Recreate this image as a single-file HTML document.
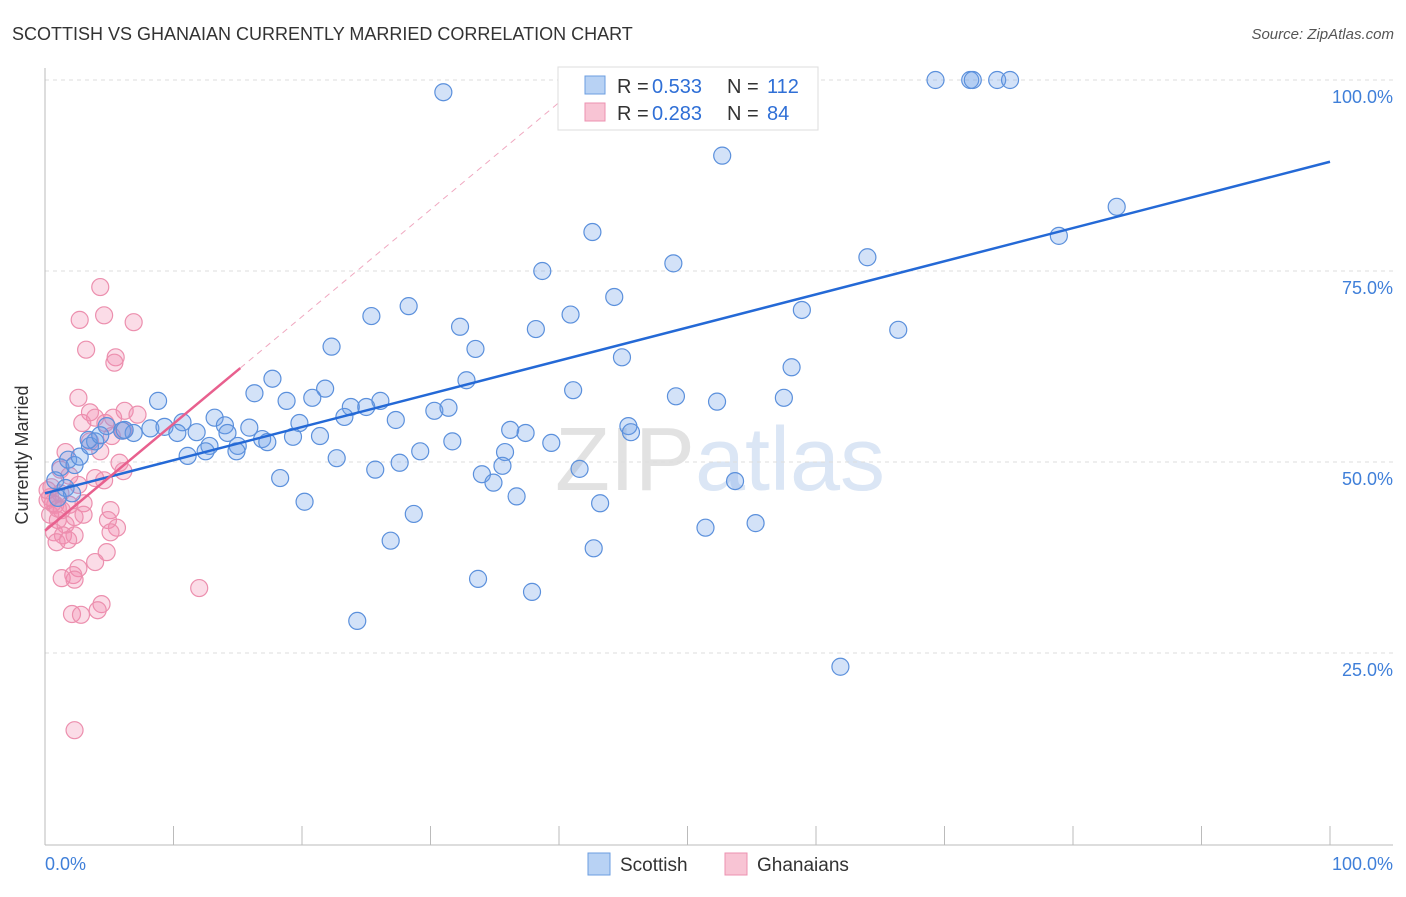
<!DOCTYPE html>
<html><head><meta charset="utf-8"><style>
body{margin:0;background:#fff;font-family:"Liberation Sans",sans-serif;}
svg text{font-family:"Liberation Sans",sans-serif;}
</style></head><body>
<svg id="chart" width="1406" height="892" xmlns="http://www.w3.org/2000/svg">
<text x="12" y="40" font-size="18" fill="#333">SCOTTISH VS GHANAIAN CURRENTLY MARRIED CORRELATION CHART</text>
<text x="1394" y="39" font-size="15" fill="#555" text-anchor="end" font-style="italic">Source: ZipAtlas.com</text>
<text x="720" y="490" font-size="90" fill="#e8e8e8" text-anchor="middle" font-family="Liberation Serif"><tspan fill="#e2e2e2">ZIP</tspan><tspan fill="#dbe6f5" font-family="Liberation Sans">atlas</tspan></text>
<g id="grid"></g>
<g id="axes"></g>
<g id="pts"></g>
<g id="lines"></g>
<text x="28" y="455" font-size="18" fill="#333" text-anchor="middle" transform="rotate(-90 28 455)">Currently Married</text>
<g>
<rect x="558" y="67" width="260" height="63" fill="#fff" stroke="#ddd"/>
<rect x="585" y="76" width="20" height="18" fill="#b8d2f4" stroke="#6b9ee0"/>
<rect x="585" y="103" width="20" height="18" fill="#f8c4d4" stroke="#ec92b0"/>
<text x="617" y="93" font-size="20" fill="#333">R =</text>
<text x="652" y="93" font-size="20" fill="#2f6fd6">0.533</text>
<text x="727" y="93" font-size="20" fill="#333">N =</text>
<text x="767" y="93" font-size="20" fill="#2f6fd6">112</text>
<text x="617" y="120" font-size="20" fill="#333">R =</text>
<text x="652" y="120" font-size="20" fill="#2f6fd6">0.283</text>
<text x="727" y="120" font-size="20" fill="#333">N =</text>
<text x="767" y="120" font-size="20" fill="#2f6fd6">84</text>
</g>
<g>
<rect x="588" y="853" width="22" height="22" fill="#b8d2f4" stroke="#6b9ee0"/>
<text x="620" y="871" font-size="19" fill="#333">Scottish</text>
<rect x="725" y="853" width="22" height="22" fill="#f8c4d4" stroke="#ec92b0"/>
<text x="757" y="871" font-size="19" fill="#333">Ghanaians</text>
</g>
</svg>
<script>
const blueX=[31.0,51.8,69.3,72.0,72.2,74.1,75.1,52.7,83.4,78.9,42.6,64.0,48.9,38.7,44.3,28.3,25.4,40.9,58.9,32.3,38.2,66.4,22.3,33.5,44.9,58.1,17.7,32.8,21.8,41.1,16.3,8.8,18.8,20.8,26.1,49.1,52.3,57.5,23.8,25.0,30.3,31.4,23.3,27.3,13.2,10.7,14.0,19.8,45.4,45.6,36.2,37.4,4.8,6.0,6.9,8.2,9.3,10.3,11.8,15.9,14.2,16.9,17.3,19.3,21.4,15.0,12.8,12.5,11.1,14.9,31.7,39.4,29.2,35.8,22.7,27.6,25.7,35.6,41.6,34.0,34.9,53.7,18.3,36.7,43.2,20.2,28.7,51.4,55.3,26.9,42.7,33.7,37.9,24.3,61.9,1.2,1.8,2.3,2.7,3.5,3.9,3.4,0.8,1.6,2.1,1.0,4.3,6.2];
const blueY=[98.4,100,100,100,100,100,100,90.1,83.4,79.6,80.1,76.8,76.0,75.0,71.6,70.4,69.1,69.3,69.9,67.7,67.4,67.3,65.1,64.8,63.7,62.4,60.9,60.7,59.6,59.4,59.0,58.0,58.0,58.4,58.0,58.6,57.9,58.4,57.2,57.2,56.7,57.1,55.9,55.5,55.8,55.2,54.8,55.1,54.7,53.9,54.2,53.8,54.7,54.1,53.8,54.4,54.6,53.8,53.9,54.5,53.8,53.0,52.6,53.3,53.4,52.1,52.1,51.4,50.8,51.4,52.7,52.5,51.4,51.3,50.5,49.9,49.0,49.5,49.1,48.4,47.3,47.5,47.9,45.5,44.6,44.8,43.2,41.4,42.0,39.7,38.7,34.7,33.0,29.2,23.2,49.3,50.3,49.6,50.7,52.1,52.7,52.9,47.6,46.6,45.9,45.3,53.5,54.2];
const pinkX=[4.3,2.7,4.6,6.9,3.2,5.5,5.4,2.6,3.5,3.9,2.9,5.3,6.2,7.2,4.7,6.1,5.2,3.5,1.6,4.3,5.8,6.1,3.9,4.6,1.2,1.9,2.6,0.5,1.2,0.2,0.8,1.3,1.9,3.0,0.4,1.0,1.6,2.3,3.0,5.1,4.9,5.6,5.1,0.7,1.4,2.3,0.9,1.8,4.8,3.9,2.6,2.2,2.3,1.3,4.4,4.1,2.1,2.8,12.0,2.3,0.2,0.4,0.6,1.0];
const pinkY=[72.9,68.6,69.2,68.3,64.7,63.7,63.0,58.4,56.5,55.8,55.1,55.8,56.7,56.2,55.1,54.1,53.4,52.7,51.3,51.4,49.9,48.8,47.9,47.6,49.0,48.2,47.0,46.7,45.9,45.0,44.4,43.7,44.4,44.6,43.1,42.4,41.8,42.8,43.1,43.7,42.4,41.4,40.8,40.8,40.4,40.4,39.5,39.8,38.2,36.9,36.1,35.2,34.6,34.8,31.4,30.6,30.1,30.0,33.5,14.9,46.3,45.4,44.6,43.9];
const blueLine=[45.9,89.3];
const pinkLine=[41.0,62.3];
const yTicks=[100,75,50,25];
const NS="http://www.w3.org/2000/svg";
const X=v=>45+v*12.85, Y=v=>844-v*7.64;
function mk(t,a,p){const e=document.createElementNS(NS,t);for(const k in a)e.setAttribute(k,a[k]);document.getElementById(p).appendChild(e);return e;}
yTicks.forEach(t=>{
 const l=mk('line',{x1:45,x2:1393,y1:Y(t),y2:Y(t),stroke:'#ddd','stroke-dasharray':'4 4'},'grid');
 
 
 const tx=mk('text',{x:1393,y:Y(t)+23,'font-size':18,fill:'#3f7fd9','text-anchor':'end'},'axes');
 tx.textContent=t.toFixed(1)+'%';
 
 
});
mk('line',{x1:45,x2:45,y1:68,y2:845,stroke:'#bbb'},'axes');
mk('line',{x1:45,x2:1393,y1:845,y2:845,stroke:'#bbb'},'axes');
for(let i=0;i<=10;i++){const t=mk('line',{x1:X(i*10),x2:X(i*10),y1:826,y2:845,stroke:'#bbb'},'axes');}
let a=mk('text',{x:45,y:870,'font-size':18,fill:'#3f7fd9'},'axes');a.textContent='0.0%';


a=mk('text',{x:1393,y:870,'font-size':18,fill:'#3f7fd9','text-anchor':'end'},'axes');a.textContent='100.0%';


pinkX.forEach((x,i)=>{const c=mk('circle',{cx:X(x),cy:Y(pinkY[i]),r:8.5,fill:'rgba(242,140,175,0.3)',stroke:'#ec8fae','stroke-width':1.2},'pts');

});
blueX.forEach((x,i)=>{const c=mk('circle',{cx:X(x),cy:Y(blueY[i]),r:8.5,fill:'rgba(110,160,232,0.3)',stroke:'#5b90dc','stroke-width':1.2},'pts');

});
let l=mk('line',{x1:X(0),y1:Y(blueLine[0]),x2:X(100),y2:Y(blueLine[1]),stroke:'#2469d6','stroke-width':2.5},'lines');


const ps=(pinkLine[1]-pinkLine[0])/15.2;
l=mk('line',{x1:X(15.2),y1:Y(pinkLine[1]),x2:X(42),y2:Y(pinkLine[0]+ps*42),stroke:'#f0a8c0','stroke-width':1,'stroke-dasharray':'6 5'},'lines');


l=mk('line',{x1:X(0),y1:Y(pinkLine[0]),x2:X(15.2),y2:Y(pinkLine[1]),stroke:'#e8608e','stroke-width':2.5},'lines');


</script>
</body></html>
